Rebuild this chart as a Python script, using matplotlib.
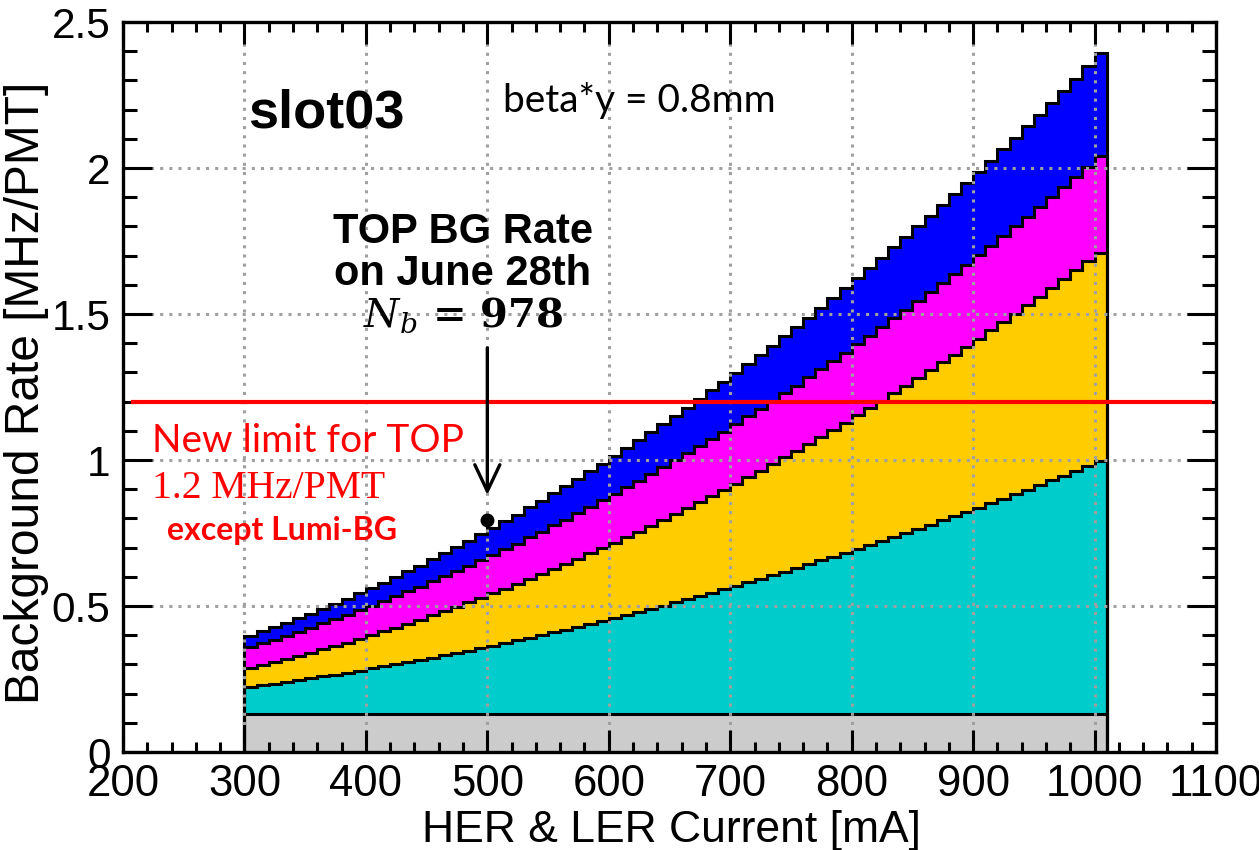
import numpy as np
import matplotlib
matplotlib.use("Agg")
import matplotlib.pyplot as plt
from matplotlib.ticker import MultipleLocator, FormatStrFormatter

# ---------------- data ----------------
bin_low, bin_width, n_bins = 300, 10, 71

grey = [0.13] * n_bins

cyan = [0.093, 0.099, 0.104, 0.110, 0.116, 0.122, 0.129, 0.135, 0.142, 0.149,
        0.156, 0.163, 0.170, 0.178, 0.185, 0.193, 0.201, 0.209, 0.217, 0.226,
        0.234, 0.243, 0.252, 0.261, 0.270, 0.280, 0.289, 0.299, 0.309, 0.319,
        0.329, 0.339, 0.349, 0.360, 0.371, 0.382, 0.393, 0.404, 0.416, 0.427,
        0.439, 0.451, 0.463, 0.475, 0.488, 0.500, 0.513, 0.526, 0.539, 0.552,
        0.565, 0.579, 0.592, 0.606, 0.620, 0.634, 0.648, 0.663, 0.677, 0.692,
        0.707, 0.722, 0.737, 0.753, 0.768, 0.784, 0.800, 0.816, 0.832, 0.849,
        0.865]

orange = [0.064, 0.069, 0.073, 0.078, 0.083, 0.088, 0.093, 0.098, 0.103, 0.109,
          0.114, 0.120, 0.126, 0.132, 0.138, 0.145, 0.151, 0.158, 0.165, 0.172,
          0.179, 0.186, 0.193, 0.201, 0.208, 0.216, 0.224, 0.232, 0.241, 0.249,
          0.257, 0.266, 0.275, 0.284, 0.293, 0.302, 0.311, 0.321, 0.331, 0.340,
          0.350, 0.360, 0.371, 0.381, 0.392, 0.402, 0.413, 0.424, 0.435, 0.446,
          0.458, 0.469, 0.481, 0.493, 0.505, 0.517, 0.529, 0.541, 0.554, 0.566,
          0.579, 0.592, 0.605, 0.618, 0.632, 0.645, 0.659, 0.673, 0.687, 0.701,
          0.715]

magenta = [0.072, 0.075, 0.078, 0.080, 0.083, 0.086, 0.089, 0.092, 0.095, 0.098,
           0.101, 0.104, 0.107, 0.110, 0.113, 0.117, 0.120, 0.123, 0.126, 0.130,
           0.133, 0.136, 0.139, 0.143, 0.146, 0.150, 0.153, 0.157, 0.160, 0.164,
           0.167, 0.171, 0.174, 0.178, 0.181, 0.185, 0.189, 0.193, 0.196, 0.200,
           0.204, 0.208, 0.212, 0.215, 0.219, 0.223, 0.227, 0.231, 0.235, 0.239,
           0.243, 0.247, 0.252, 0.256, 0.260, 0.264, 0.268, 0.273, 0.277, 0.281,
           0.285, 0.290, 0.294, 0.299, 0.303, 0.307, 0.312, 0.316, 0.321, 0.325,
           0.330]

blue = [0.038, 0.040, 0.042, 0.044, 0.046, 0.048, 0.050, 0.053, 0.055, 0.058,
        0.060, 0.063, 0.066, 0.069, 0.072, 0.075, 0.078, 0.082, 0.085, 0.088,
        0.092, 0.095, 0.099, 0.103, 0.106, 0.110, 0.114, 0.118, 0.122, 0.126,
        0.130, 0.134, 0.139, 0.143, 0.147, 0.152, 0.156, 0.161, 0.166, 0.170,
        0.175, 0.180, 0.185, 0.190, 0.195, 0.200, 0.205, 0.211, 0.216, 0.221,
        0.227, 0.232, 0.238, 0.244, 0.249, 0.255, 0.261, 0.267, 0.273, 0.279,
        0.285, 0.291, 0.298, 0.304, 0.310, 0.317, 0.323, 0.330, 0.336, 0.343,
        0.355]

layer_values = [grey, cyan, orange, magenta, blue]
layer_colors = ["#cccccc", "#00cccc", "#ffcc00", "#ff00ff", "#0000ff"]

measured_current = [500]
measured_rate = [0.795]
limit_rate = 1.2
limit_span = [208, 1095]
arrow_x = 500
arrow_from, arrow_to = 1.384, 0.88

x_ticks = [200, 300, 400, 500, 600, 700, 800, 900, 1000, 1100]
y_ticks = [0, 0.5, 1, 1.5, 2, 2.5]

# ---------------- figure ----------------
W, H = 1259, 850
fig = plt.figure(figsize=(W / 100, H / 100), dpi=100)
L, R, T, B = 123, 1216, 22, 752
ax = fig.add_axes([L / W, 1 - B / H, (R - L) / W, (B - T) / H])

edges = np.arange(n_bins + 1) * bin_width + bin_low
stack = np.cumsum(np.array(layer_values), axis=0)
lower = np.zeros(n_bins)
for top, col in zip(stack, layer_colors):
    ax.stairs(top, edges, baseline=lower, fill=True, color=col, lw=0, zorder=1)
    lower = top
for top in stack:
    ax.stairs(top, edges, baseline=0, fill=False, color="black", lw=2.2, zorder=1.5)

ax.set_xlim(200, 1100)
ax.set_ylim(0, 2.5)
ax.set_xticks(x_ticks)
ax.set_yticks(y_ticks)
ax.yaxis.set_major_formatter(FormatStrFormatter("%g"))
ax.xaxis.set_minor_locator(MultipleLocator(20))
ax.yaxis.set_minor_locator(MultipleLocator(0.1))

ax.set_axisbelow(False)
ax.grid(True, which="major", color="#a0a0a0", linestyle=(0, (1, 2)), lw=2.2)

for sp in ax.spines.values():
    sp.set_linewidth(2.4)
    sp.set_zorder(6)

ax.tick_params(axis="both", which="both", direction="in", top=True, right=True,
               width=2.2, color="black")
ax.tick_params(axis="x", which="major", length=16, pad=9)
ax.tick_params(axis="x", which="minor", length=7.5)
ax.tick_params(axis="y", which="major", length=21, pad=9)
ax.tick_params(axis="y", which="minor", length=10)
for lab in ax.get_xticklabels():
    lab.set_fontfamily("Liberation Sans")
    lab.set_fontsize(31.5)
for lab in ax.get_yticklabels():
    lab.set_fontfamily("Liberation Sans")
    lab.set_fontsize(30.5)

# limit line
ax.plot(limit_span, [limit_rate, limit_rate], color="#ff0000", lw=3, zorder=4)

# arrow + measured point
ax.annotate("", xy=(arrow_x, arrow_to), xytext=(arrow_x, arrow_from),
            arrowprops=dict(arrowstyle="->,head_length=0.95,head_width=0.45",
                            color="black", lw=2.4, shrinkA=0, shrinkB=0,
                            mutation_scale=20),
            zorder=5)
ax.plot(measured_current, measured_rate, "o", color="black", ms=9, zorder=5)

# axis titles
fig.text(671 / W, 1 - 842 / H, "HER & LER Current [mA]", ha="center", va="baseline",
         fontsize=32, fontfamily="Liberation Sans")
fig.text(27 / W, 1 - 393 / H, "Background Rate [MHz/PMT]", ha="center", va="center",
         rotation=90, fontsize=34.5, fontfamily="Liberation Sans")

def px(x, y):
    return (x / W, 1 - y / H)

fig.text(*px(248, 127), "slot03", fontsize=39, fontweight="bold",
         fontfamily="Liberation Sans", va="baseline", ha="left")
fig.text(*px(503, 112), "beta*y = 0.8mm", fontsize=28, fontfamily="Lato",
         va="baseline", ha="left")
fig.text(*px(463, 243), "TOP BG Rate", fontsize=30, fontweight="bold",
         fontfamily="Liberation Sans", va="baseline", ha="center")
fig.text(*px(463, 285), "on June 28th", fontsize=30, fontweight="bold",
         fontfamily="Liberation Sans", va="baseline", ha="center")
fig.text(*px(463, 327), r"$N_b$ = 978", fontsize=29, fontweight="bold",
         fontfamily="DejaVu Serif", math_fontfamily="dejavuserif",
         va="baseline", ha="center")

fig.text(*px(152, 452), "New limit for TOP", fontsize=28, color="#ff0000",
         fontfamily="Lato", va="baseline", ha="left")
fig.text(*px(152, 498), "1.2 MHz/PMT", fontsize=28.5, color="#ff0000",
         fontfamily="Liberation Serif", va="baseline", ha="left")
fig.text(*px(167, 540), "except Lumi-BG", fontsize=23, color="#ff0000",
         fontweight="bold", fontfamily="Lato", va="baseline", ha="left")

fig.savefig("out.png", dpi=100)
